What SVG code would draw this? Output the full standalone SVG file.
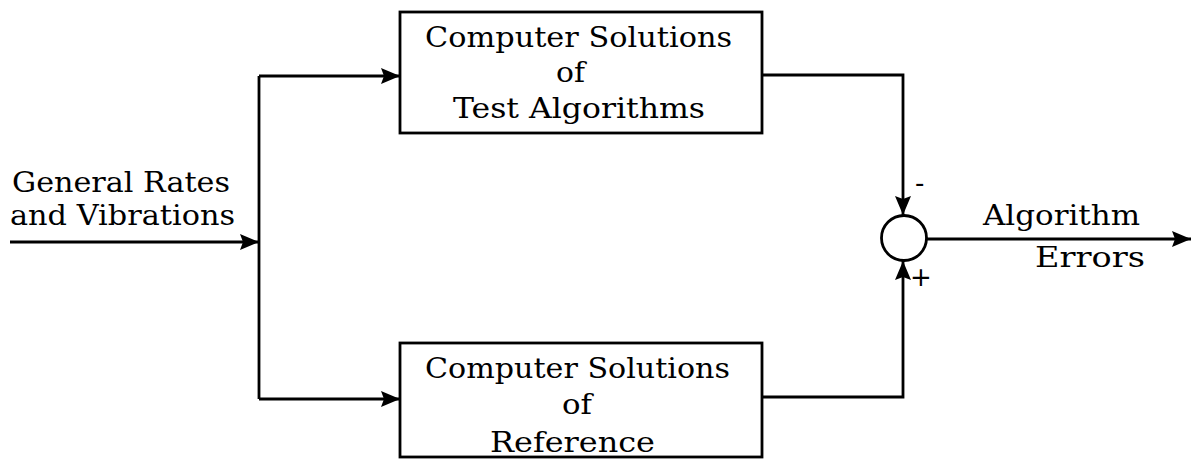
<svg xmlns="http://www.w3.org/2000/svg" width="1193" height="460" viewBox="0 0 1193 460">
  <style>
    .box { fill: #fff; stroke: #000; stroke-width: 2.8; }
    .wire { fill: none; stroke: #000; stroke-width: 2.8; }
    .lbl { font-family: "DejaVu Serif", "Liberation Serif", serif; font-size: 27px; fill: #000; }
    .sign { font-family: "DejaVu Sans", "Liberation Sans", sans-serif; font-size: 26px; fill: #000; }
  </style>
  <defs>
    <marker id="arrow" markerUnits="userSpaceOnUse" markerWidth="22" markerHeight="18" refX="19" refY="8" orient="auto">
      <path d="M0,0 L19,8 L0,16 L3,8 z" fill="#000"/>
    </marker>
  </defs>

  <!-- input label -->
  <g id="input">
    <text class="lbl" x="12" y="192" textLength="218" lengthAdjust="spacingAndGlyphs">General Rates</text>
    <text class="lbl" x="10" y="225" textLength="225" lengthAdjust="spacingAndGlyphs">and Vibrations</text>
  </g>

  <!-- block under test -->
  <g id="test-block">
    <rect class="box" x="400" y="12" width="362" height="121"/>
    <text class="lbl" x="425" y="47" textLength="307" lengthAdjust="spacingAndGlyphs">Computer Solutions</text>
    <text class="lbl" x="556" y="82" textLength="29" lengthAdjust="spacingAndGlyphs">of</text>
    <text class="lbl" x="453" y="118" textLength="252" lengthAdjust="spacingAndGlyphs">Test Algorithms</text>
  </g>

  <!-- reference block -->
  <g id="reference-block">
    <rect class="box" x="400" y="343" width="362" height="114"/>
    <text class="lbl" x="425" y="378" textLength="305" lengthAdjust="spacingAndGlyphs">Computer Solutions</text>
    <text class="lbl" x="562" y="414" textLength="30" lengthAdjust="spacingAndGlyphs">of</text>
    <text class="lbl" x="490" y="452" textLength="165" lengthAdjust="spacingAndGlyphs">Reference</text>
  </g>

  <!-- summing junction -->
  <g id="summer">
    <circle class="wire" cx="904" cy="238" r="22.5"/>
    <text class="sign" x="915" y="192">-</text>
    <text class="sign" x="910" y="286">+</text>
  </g>

  <!-- output label -->
  <g id="output">
    <text class="lbl" x="983" y="225" textLength="157" lengthAdjust="spacingAndGlyphs">Algorithm</text>
    <text class="lbl" x="1035" y="267" textLength="110" lengthAdjust="spacingAndGlyphs">Errors</text>
  </g>

  <!-- connectors -->
  <g id="connectors">
    <path class="wire" d="M10 242 H259" marker-end="url(#arrow)"/>
    <path class="wire" d="M259 76 V399"/>
    <path class="wire" d="M259 76 H400" marker-end="url(#arrow)"/>
    <path class="wire" d="M259 399 H400" marker-end="url(#arrow)"/>
    <path class="wire" d="M762 75 H903 V215" marker-end="url(#arrow)"/>
    <path class="wire" d="M762 397 H903 V261" marker-end="url(#arrow)"/>
    <path class="wire" d="M926 239 H1191" marker-end="url(#arrow)"/>
  </g>
</svg>
